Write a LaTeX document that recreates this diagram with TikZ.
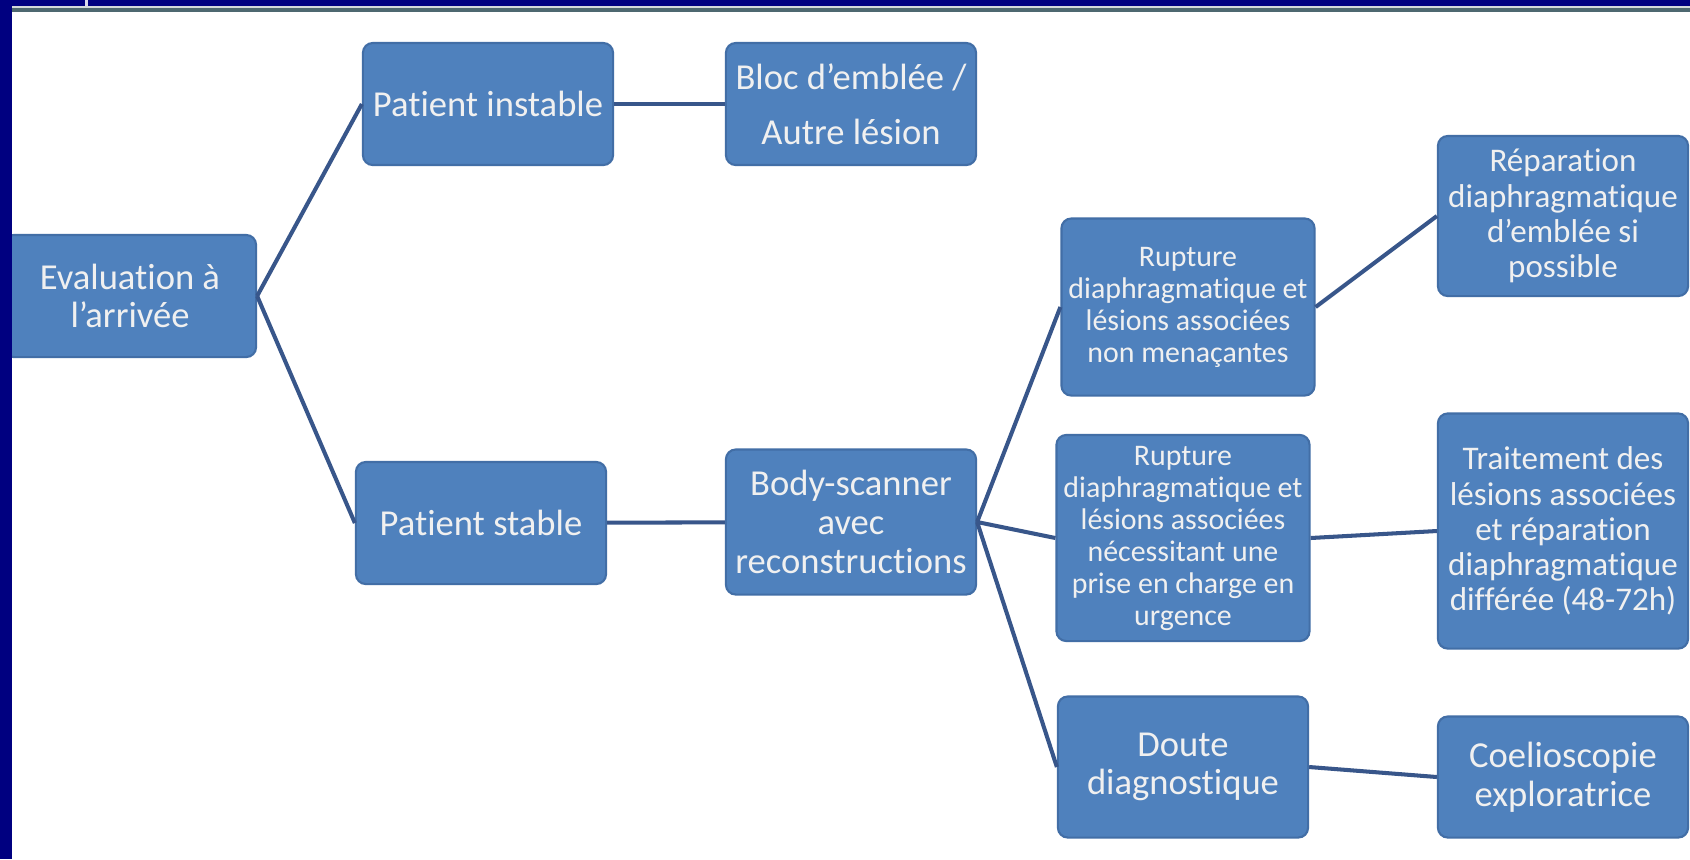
\documentclass[tikz,border=0pt]{standalone}
\usepackage{fontspec}
\setmainfont{Carlito}[Ligatures=CommonOff]
\usepackage{tikz}
\usetikzlibrary{positioning}
\definecolor{SlideNavy}{RGB}{0,0,128}
\definecolor{BoxBlue}{RGB}{79,129,189}
\definecolor{BoxEdge}{RGB}{66,110,166}
\definecolor{LinkBlue}{RGB}{56,86,138}
\definecolor{RuleGray}{RGB}{78,104,112}
\tikzset{
  box/.style={draw=BoxEdge,fill=BoxBlue,text=white!94!black,rounded corners=2.8pt,
    align=center,inner sep=2pt,minimum width=2.5cm,line width=0.6pt},
  big/.style={font=\fontsize{10.4}{11}\selectfont},
  mid/.style={font=\fontsize{9.4}{10}\selectfont},
  small/.style={font=\fontsize{8.5}{9.1}\selectfont},
  link/.style={draw=LinkBlue,line width=1.15pt},
}

\begin{document}
\begin{tikzpicture}[x=0.01cm,y=-0.01cm]
\fill[white] (0,0) rectangle (1690,859);
\useasboundingbox (0,0) rectangle (1690,859);
% rule under the title bar
\fill[RuleGray!25] (12,6) rectangle (1690,8);\fill[RuleGray] (12,8) rectangle (1690,12);

% first level
\node[box,big,minimum width=2.52cm,minimum height=1.22cm](eval) at (130,296){Evaluation à\\l’arrivée};
\node[box,big,minimum height=1.22cm](instable) at (488,104){Patient instable};
\node[box,big,minimum height=1.22cm](bloc) at (851,104){Bloc d’emblée /\\[4.5pt]Autre lésion};
\node[box,big,minimum height=1.22cm](stable) at (481,523){Patient stable};
\node[box,big,minimum height=1.45cm](scan) at (851,522){Body-scanner\\avec\\reconstructions};
% after the scanner
\node[box,small,minimum height=1.77cm](rupnm) at (1188,307){Rupture\\diaphragmatique et\\lésions associées\\non menaçantes};
\node[box,small,minimum height=2.06cm](rupurg) at (1183,538){Rupture\\diaphragmatique et\\lésions associées\\nécessitant une\\prise en charge en\\urgence};
\node[box,big,minimum height=1.41cm](doute) at (1183,767){Doute\\diagnostique};
\node[box,mid,minimum height=1.6cm](repar) at (1563,216){Réparation\\diaphragmatique\\d’emblée si\\possible};
\node[box,mid,minimum height=2.35cm](trait) at (1563,531){Traitement des\\lésions associées\\et réparation\\diaphragmatique\\différée (48-72h)};
\node[box,big,minimum height=1.21cm](coelio) at (1563,777){Coelioscopie\\exploratrice};

\draw[link] (eval.east)--(instable.west);\draw[link] (eval.east)--(stable.west);
\draw[link] (instable)--(bloc);\draw[link] (stable)--(scan);
\draw[link] (scan.east)--(rupnm.west);\draw[link] (scan.east)--(rupurg.west);\draw[link] (scan.east)--(doute.west);
\draw[link] (rupnm.east)--(repar.west);\draw[link] (rupurg.east)--(trait.west);\draw[link] (doute.east)--(coelio.west);

% navy slide frame
\fill[SlideNavy] (0,0) rectangle (1690,6);\fill[SlideNavy] (0,0) rectangle (12,859);
\fill[white!85!SlideNavy] (85,0) rectangle (88,6);
\end{tikzpicture}
\end{document}
